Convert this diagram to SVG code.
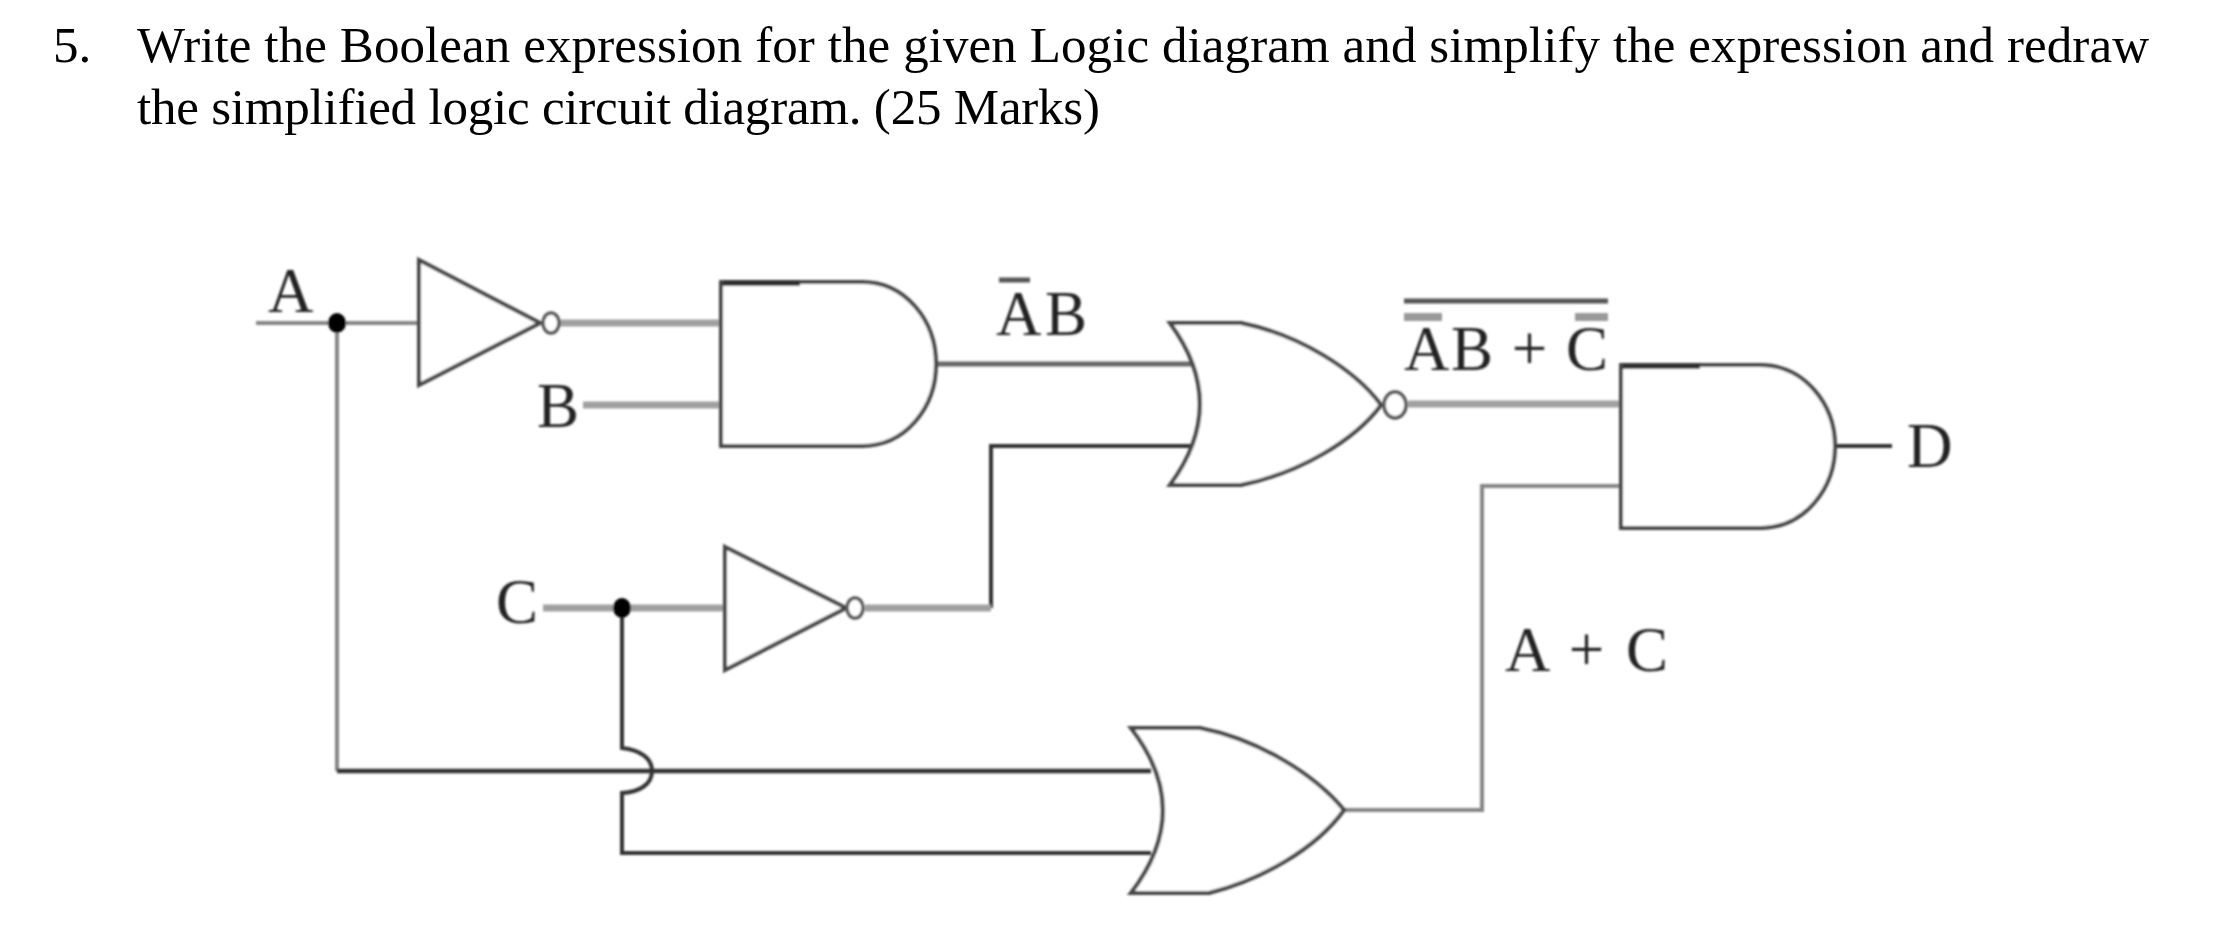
<svg xmlns="http://www.w3.org/2000/svg" width="2238" height="926" viewBox="0 0 2238 926">
<defs>
<filter id="soft" x="-5%" y="-5%" width="110%" height="110%"><feGaussianBlur stdDeviation="0.9"/></filter>
</defs>
<style>
.q{font-family:"Liberation Serif","Times New Roman",serif;font-size:51px;fill:#000}
.l{font-family:"Liberation Serif","Times New Roman",serif;font-size:63px;fill:#222}
.g{fill:#fff;stroke:#444;stroke-width:4;stroke-linejoin:miter}
.b{fill:#fff;stroke:#555;stroke-width:3.5}
.w{fill:none;stroke:#858585;stroke-width:4}
.wg{fill:none;stroke:#a0a0a0;stroke-width:7}
.wd{fill:none;stroke:#333;stroke-width:4.5}
.dot{fill:#000}
.edge{fill:none;stroke:#333;stroke-width:6}
.bar{stroke:#555;stroke-width:5}
.barg{stroke:#999;stroke-width:8}
</style>
<rect width="2238" height="926" fill="#fff"/>
<g id="question">
<text class="q" x="53" y="62">5.</text>
<text class="q" x="137" y="62" textLength="2012" lengthAdjust="spacing">Write the Boolean expression for the given Logic diagram and simplify the expression and redraw</text>
<text class="q" x="137" y="124" textLength="963" lengthAdjust="spacing">the simplified logic circuit diagram. (25 Marks)</text>
</g>
<g filter="url(#soft)">
<g id="connectors">
<path class="w" d="M256 323H419"/>
<path class="w" d="M337 323V771"/>
<path class="wg" d="M560 323H721"/>
<path class="wg" d="M583 405H721"/>
<path class="wd" d="M936 364H1192" style="stroke:#666;stroke-width:5"/>
<path class="wd" d="M991 608V446H1192" style="stroke-width:4"/>
<path class="wg" d="M543 608H725"/>
<path class="wg" d="M865 608H991"/>
<path class="wd" d="M622 608V748C640 750 652 758 652 771C652 784 640 792 622 793V853H1151" style="stroke-width:4"/>
<path class="wd" d="M337 771H1151"/>
<path class="w" d="M1344 810H1482V486H1621"/>
<path class="wg" d="M1408 404H1621"/>
<path class="wd" d="M1835 446H1892" style="stroke-width:4"/>
</g>
<g id="junction-a"><ellipse class="dot" cx="337" cy="323" rx="9" ry="10"/></g>
<g id="junction-c"><ellipse class="dot" cx="622" cy="608" rx="9" ry="10"/></g>
<g id="not-a">
<path class="g" d="M419 260L540 323L419 385Z"/>
<ellipse class="b" cx="551" cy="323" rx="8" ry="10"/>
</g>
<g id="and-1">
<path class="g" d="M721 282H862C905 282 936 320 936 364C936 408 905 446 862 446H721Z"/>
<path class="edge" d="M723 283H800"/>
</g>
<g id="not-c">
<path class="g" d="M725 547L846 608L725 670Z"/>
<ellipse class="b" cx="855" cy="608" rx="8" ry="10"/>
</g>
<g id="nor">
<path class="g" d="M1170 323H1241C1300 335 1355 370 1381 405C1355 440 1300 473 1241 485H1170Q1230 404 1170 323Z"/>
<ellipse class="b" cx="1395" cy="405" rx="11" ry="13"/>
</g>
<g id="or">
<path class="g" d="M1131 728H1200C1260 740 1315 775 1344 810C1315 850 1260 880 1209 893H1131Q1195 810 1131 728Z"/>
</g>
<g id="and-2">
<path class="g" d="M1621 365H1760C1805 365 1835 405 1835 446C1835 488 1805 528 1760 528H1621Z"/>
<path class="edge" d="M1623 366H1700"/>
</g>
<g id="labels">
<text class="l" x="268" y="312">A</text>
<text class="l" x="537" y="427">B</text>
<text class="l" x="496" y="623">C</text>
<text class="l" x="1907" y="467">D</text>
<text class="l" x="996" y="335" textLength="91" lengthAdjust="spacing">AB</text>
<line class="bar" x1="999" y1="280" x2="1030" y2="280"/>
<text class="l" x="1404" y="370" textLength="204" lengthAdjust="spacing">AB + C</text>
<line class="bar" x1="1404" y1="301" x2="1608" y2="301"/>
<line class="barg" x1="1404" y1="317" x2="1442" y2="317"/>
<line class="barg" x1="1575" y1="317" x2="1608" y2="317"/>
<text class="l" x="1505" y="671" textLength="163" lengthAdjust="spacing">A + C</text>
</g>
</g>
</svg>
